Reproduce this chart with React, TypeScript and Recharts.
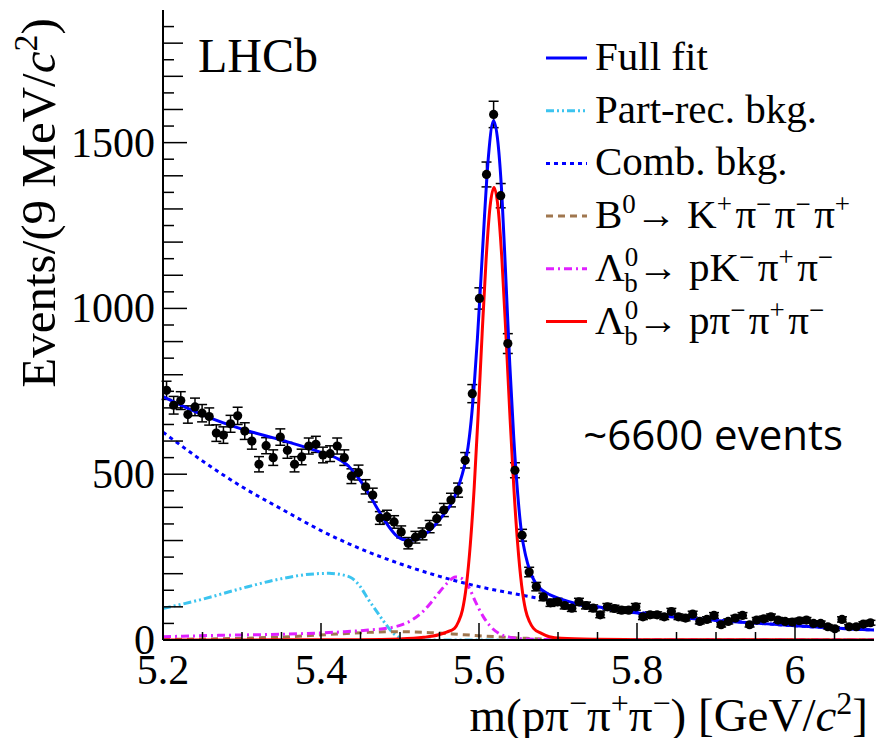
import React from 'react';
import { ComposedChart, Line, Scatter, ErrorBar, XAxis, YAxis } from 'recharts';

// 9 MeV bins starting at 5.2 GeV
const BIN_LO = 5.2;
const BIN_W = 0.009;

const EVENTS = [
  753, 708, 722, 680, 703, 684, 674, 624, 618, 652,
  676, 630, 600, 530, 586, 550, 612, 572, 530, 552,
  585, 590, 558, 562, 585, 550, 494, 505, 462, 437,
  368, 372, 356, 326, 292, 310, 320, 342, 366, 392,
  422, 452, 542, 743, 1030, 1404, 1585, 1340, 894, 512,
  316, 205, 161, 130, 112, 115, 104, 96, 115, 104,
  96, 76, 100, 95, 90, 90, 100, 70, 76, 76,
  70, 86, 70, 66, 78, 56, 62, 74, 46, 56,
  66, 74, 46, 60, 64, 70, 60, 56, 54, 58,
  60, 50, 50, 40, 34, 62, 40, 40, 48, 52,
];

// fit curves as [mass, events] pairs
const FULL_FIT: [number, number][] = [
  [5.2, 734], [5.25, 679], [5.3, 636], [5.35, 603], [5.4, 566], [5.42, 548], [5.435, 524],
  [5.445, 496], [5.457, 455], [5.47, 402], [5.482, 355], [5.494, 318], [5.506, 302],
  [5.515, 301], [5.528, 314], [5.54, 336], [5.555, 378], [5.567, 420], [5.575, 470],
  [5.581, 520], [5.586, 580], [5.59, 660], [5.594, 770], [5.598, 910], [5.602, 1070],
  [5.607, 1280], [5.612, 1460], [5.6185, 1566], [5.624, 1500], [5.629, 1340], [5.634, 1090],
  [5.639, 830], [5.644, 610], [5.649, 440], [5.654, 320], [5.659, 255], [5.665, 205],
  [5.672, 170], [5.68, 150], [5.69, 136], [5.703, 124], [5.72, 112], [5.75, 100],
  [5.78, 88], [5.82, 76], [5.86, 66], [5.9, 59], [5.95, 51], [6.0, 43], [6.05, 36], [6.1, 30],
];

const PART_REC: [number, number][] = [
  [5.2, 95], [5.25, 123], [5.3, 156], [5.35, 185], [5.38, 197], [5.41, 201], [5.43, 195],
  [5.44, 185], [5.45, 160], [5.46, 122], [5.47, 88], [5.48, 54], [5.49, 24], [5.5, 6],
  [5.51, 0], [6.1, 0],
];

const COMB_BKG: [number, number][] = [
  [5.2, 627], [5.25, 540], [5.3, 462], [5.35, 395], [5.4, 330], [5.45, 275], [5.5, 230],
  [5.55, 192], [5.6, 161], [5.65, 137], [5.7, 116], [5.75, 98], [5.8, 84], [5.85, 71],
  [5.9, 60], [5.95, 51], [6.0, 43], [6.05, 36], [6.1, 30],
];

const B0_KPIPIPI: [number, number][] = [
  [5.2, 2], [5.3, 5], [5.36, 10], [5.42, 18], [5.46, 23], [5.5, 25], [5.54, 22],
  [5.58, 16], [5.62, 10], [5.66, 5], [5.7, 2], [5.8, 0], [6.1, 0],
];

const LB_PKPIPI: [number, number][] = [
  [5.2, 10], [5.27, 14], [5.36, 18], [5.43, 25], [5.46, 30], [5.49, 38], [5.5, 44],
  [5.515, 60], [5.53, 88], [5.54, 115], [5.55, 145], [5.56, 172], [5.57, 190], [5.578, 186],
  [5.587, 160], [5.595, 118], [5.605, 72], [5.613, 45], [5.625, 20], [5.64, 8], [5.66, 3],
  [5.7, 1], [5.75, 0], [6.1, 0],
];

const LB_PPIPIPI: [number, number][] = [
  [5.2, 0], [5.45, 1], [5.5, 3], [5.53, 8], [5.549, 16], [5.559, 24], [5.569, 35],
  [5.574, 55], [5.579, 90], [5.584, 164], [5.589, 288], [5.594, 463], [5.599, 684],
  [5.604, 925], [5.609, 1148], [5.614, 1307], [5.619, 1365], [5.624, 1307], [5.629, 1148],
  [5.634, 925], [5.639, 684], [5.644, 463], [5.649, 288], [5.654, 164], [5.659, 90],
  [5.664, 55], [5.669, 35], [5.679, 20], [5.689, 10], [5.704, 5], [5.75, 2], [5.8, 1], [6.1, 0],
];

const X_TICKS = [5.2, 5.25, 5.3, 5.35, 5.4, 5.45, 5.5, 5.55, 5.6, 5.65, 5.7, 5.75, 5.8, 5.85, 5.9, 5.95, 6.0, 6.05];
const Y_TICKS = [
  0, 50, 100, 150, 200, 250, 300, 350, 400, 450, 500, 550, 600, 650, 700, 750, 800, 850, 900, 950,
  1000, 1050, 1100, 1150, 1200, 1250, 1300, 1350, 1400, 1450, 1500, 1550, 1600, 1650, 1700, 1750, 1800, 1850,
];

const SERIF = "'Liberation Serif', 'DejaVu Serif', serif";
const serif = { fontFamily: SERIF };

const COLORS = {
  fit: '#0000ff',
  partRec: '#3cc4ef',
  comb: '#0000ff',
  b0: '#a0774f',
  pk: '#e020ff',
  signal: '#ff0000',
};

const toPts = (arr: [number, number][]) => arr.map(([m, v]) => ({ m, v }));

const points = EVENTS.map((v, i) => ({
  m: BIN_LO + BIN_W * (i + 0.5),
  v,
  e: Math.sqrt(v),
}));

const isMajorX = (v: number) => Math.abs(v * 5 - Math.round(v * 5)) < 1e-6;

function BottomTick({ x, y, payload }: any) {
  const v = payload.value;
  const major = isMajorX(v);
  return (
    <g>
      <line x1={x} x2={x} y1={y} y2={y - (major ? 17 : 8)} stroke="#000" strokeWidth={1.5} />
      {major && (
        <text x={x} y={y + 44} textAnchor="middle" style={serif} fontSize={42} fill="#000">
          {Math.abs(v - 6) < 1e-6 ? '6' : v.toFixed(1)}
        </text>
      )}
    </g>
  );
}

function TopTick({ x, y, payload }: any) {
  const major = isMajorX(payload.value);
  return <line x1={x} x2={x} y1={y} y2={y + (major ? 15 : 7)} stroke="#000" strokeWidth={1.5} />;
}

function LeftTick({ x, y, payload }: any) {
  const v = payload.value;
  const len = v % 500 === 0 ? 24 : v % 100 === 0 ? 20 : 11;
  return (
    <g>
      <line x1={x} x2={x + len} y1={y} y2={y} stroke="#000" strokeWidth={1.5} />
      {v % 500 === 0 && (
        <text x={x - 8} y={y} dy={14} textAnchor="end" style={serif} fontSize={42} fill="#000">
          {v}
        </text>
      )}
    </g>
  );
}

function RightTick({ x, y, payload }: any) {
  const v = payload.value;
  const len = v % 500 === 0 ? 24 : v % 100 === 0 ? 20 : 11;
  return <line x1={x} x2={x - len} y1={y} y2={y} stroke="#000" strokeWidth={1.5} />;
}

const dot = (props: any) => <circle cx={props.cx} cy={props.cy} r={4.6} fill="#000" />;

const LEGEND = [
  { key: 'fit', color: COLORS.fit, dash: undefined },
  { key: 'partRec', color: COLORS.partRec, dash: '8 3 2 3 2 3' },
  { key: 'comb', color: COLORS.comb, dash: '4 4' },
  { key: 'b0', color: COLORS.b0, dash: '7 5' },
  { key: 'pk', color: COLORS.pk, dash: '8 4 2 4' },
  { key: 'signal', color: COLORS.signal, dash: undefined },
];

const Sup = ({ s }: { s: string }) => (
  <>
    <tspan dy={-15} fontSize={27}>{s}</tspan>
    <tspan dy={15}>{'\u200a'}</tspan>
  </>
);

function legendText(key: string) {
  if (key === 'fit') return 'Full fit';
  if (key === 'partRec') return 'Part-rec. bkg.';
  if (key === 'comb') return 'Comb. bkg.';
  if (key === 'b0')
    return (
      <>
        B<tspan dy={-15} fontSize={27}>0</tspan>
        <tspan dy={15}>→ K</tspan>
        <Sup s="+" />π<Sup s="−" />π<Sup s="−" />π<tspan dy={-15} fontSize={27}>+</tspan>
      </>
    );
  const lam = (
    <>
      Λ<tspan dy={-15} fontSize={27}>0</tspan>
      <tspan dx={-14} dy={26} fontSize={27}>b</tspan>
      <tspan dy={-11}>→ </tspan>
    </>
  );
  if (key === 'pk')
    return (
      <>
        {lam}pK<Sup s="−" />π<Sup s="+" />π<tspan dy={-15} fontSize={27}>−</tspan>
      </>
    );
  return (
    <>
      {lam}pπ<Sup s="−" />π<Sup s="+" />π<tspan dy={-15} fontSize={27}>−</tspan>
    </>
  );
}

export default function App() {
  const lineProps = {
    dataKey: 'v',
    type: 'monotone' as const,
    dot: false,
    activeDot: false,
    isAnimationActive: false,
    strokeWidth: 3,
  };

  return (
    <div style={{ position: 'relative', width: 889, height: 746, margin: -8, background: '#fff' }}>
      <ComposedChart width={889} height={746} margin={{ top: 10, right: 15, bottom: 0, left: 0 }}>
        <XAxis
          dataKey="m"
          type="number"
          domain={[5.2, 6.1]}
          allowDataOverflow
          ticks={X_TICKS}
          interval={0}
          height={106}
          tickSize={0}
          tickMargin={0}
          tickLine={false}
          tick={<BottomTick />}
          axisLine={{ stroke: '#000', strokeWidth: 2 }}
        />
        <XAxis
          xAxisId="top"
          orientation="top"
          dataKey="m"
          type="number"
          domain={[5.2, 6.1]}
          allowDataOverflow
          ticks={X_TICKS}
          interval={0}
          height={0}
          tickSize={0}
          tickMargin={0}
          tickLine={false}
          tick={<TopTick />}
          axisLine={{ stroke: '#000', strokeWidth: 2 }}
        />
        <YAxis
          type="number"
          domain={[0, 1900]}
          allowDataOverflow
          ticks={Y_TICKS}
          interval={0}
          width={163}
          tickSize={0}
          tickMargin={0}
          tickLine={false}
          tick={<LeftTick />}
          axisLine={{ stroke: '#000', strokeWidth: 2 }}
        />
        <YAxis
          yAxisId="right"
          orientation="right"
          type="number"
          domain={[0, 1900]}
          allowDataOverflow
          ticks={Y_TICKS}
          interval={0}
          width={0}
          tickSize={0}
          tickMargin={0}
          tickLine={false}
          tick={<RightTick />}
          axisLine={{ stroke: '#000', strokeWidth: 2 }}
        />

        <Scatter data={points} dataKey="v" shape={dot} isAnimationActive={false}>
          <ErrorBar dataKey="e" direction="y" width={5} stroke="#000" strokeWidth={1.5} isAnimationActive={false} />
        </Scatter>

        <Line {...lineProps} data={toPts(COMB_BKG)} stroke={COLORS.comb} strokeDasharray="4 4" />
        <Line {...lineProps} data={toPts(PART_REC)} stroke={COLORS.partRec} strokeDasharray="8 3 2 3 2 3" />
        <Line {...lineProps} data={toPts(B0_KPIPIPI)} stroke={COLORS.b0} strokeDasharray="7 5" />
        <Line {...lineProps} data={toPts(LB_PKPIPI)} stroke={COLORS.pk} strokeDasharray="8 4 2 4" />
        <Line {...lineProps} data={toPts(LB_PPIPIPI)} stroke={COLORS.signal} />
        <Line {...lineProps} data={toPts(FULL_FIT)} stroke={COLORS.fit} />
      </ComposedChart>

      <svg
        width={889}
        height={746}
        style={{ position: 'absolute', left: 0, top: 0, pointerEvents: 'none' }}
      >
        <text x={198} y={72} style={serif} fontSize={48} fill="#000">LHCb</text>

        {LEGEND.map((item, i) => {
          const base = 70 + i * 52.7;
          return (
            <g key={item.key}>
              <line
                x1={546}
                x2={587}
                y1={base - 12}
                y2={base - 12}
                stroke={item.color}
                strokeWidth={3}
                strokeDasharray={item.dash}
              />
              <text x={595} y={base} style={serif} fontSize={41} fill="#000">
                {legendText(item.key)}
              </text>
            </g>
          );
        })}

        <text x={843} y={450} textAnchor="end" style={{ fontFamily: "'Open Sans', sans-serif" }} fontSize={42} fill="#000">
          ~6600 events
        </text>

        <text
          transform="translate(55,203) rotate(-90)"
          textAnchor="middle"
          style={serif}
          fontSize={49}
          fill="#000"
        >
          Events/(9 MeV/<tspan fontStyle="italic">c</tspan>
          <tspan dy={-18} fontSize={34}>2</tspan>
          <tspan dy={18}>)</tspan>
        </text>

        <text x={868} y={731} textAnchor="end" style={serif} fontSize={47} fill="#000">
          m(pπ<tspan dy={-17} fontSize={32}>−</tspan>
          <tspan dy={17}>π</tspan>
          <tspan dy={-17} fontSize={32}>+</tspan>
          <tspan dy={17}>π</tspan>
          <tspan dy={-17} fontSize={32}>−</tspan>
          <tspan dy={17}>) [GeV/</tspan>
          <tspan fontStyle="italic">c</tspan>
          <tspan dy={-17} fontSize={32}>2</tspan>
          <tspan dy={17}>]</tspan>
        </text>

        <text x={9} y={708} textAnchor="end" style={{ fontFamily: "'Open Sans', sans-serif" }} fontSize={70} fill="#0000ff">
          n
        </text>
      </svg>
    </div>
  );
}
